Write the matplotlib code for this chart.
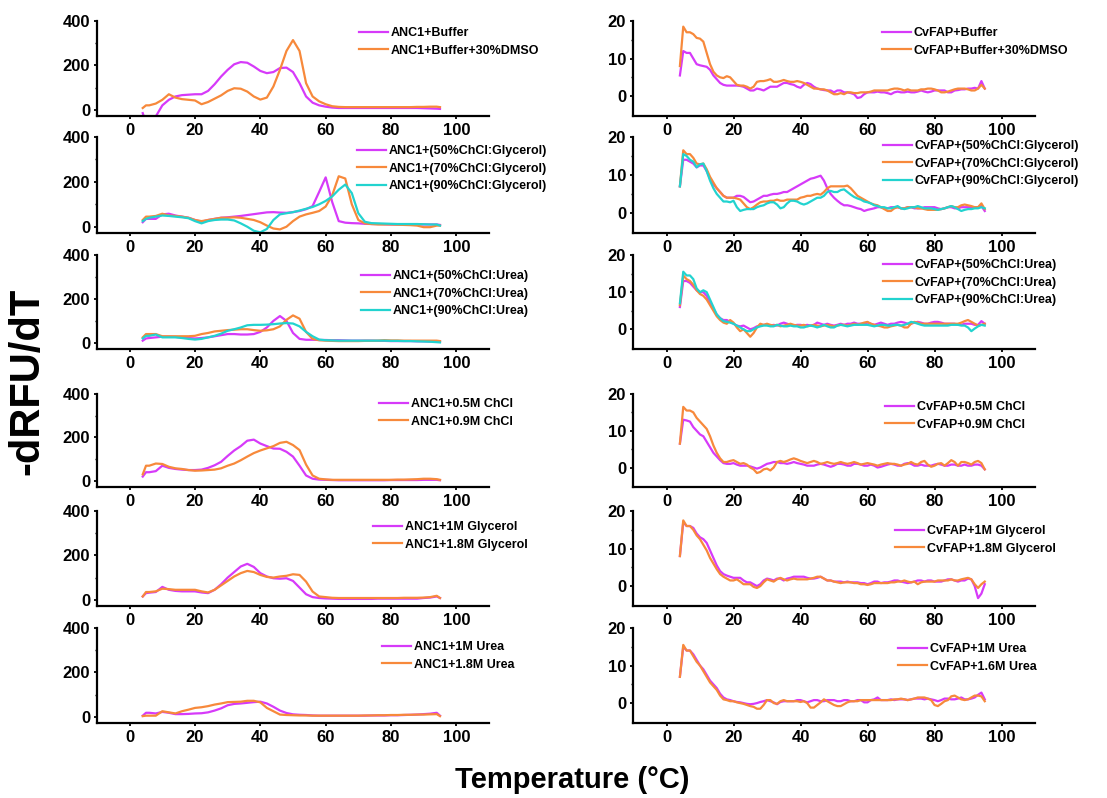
import numpy as np
import matplotlib.pyplot as plt

plt.rcParams['font.family'] = 'Liberation Sans'
plt.rcParams['font.weight'] = 'bold'

MAG = '#D63AF9'
ORA = '#F7893B'
CYA = '#22D3CF'

# temperature grid (deg C) for the ANC1 curves (smooth) and CvFAP curves (noisy)
T_L = [4, 5, 6, 8,
       10, 12, 14, 16, 18, 20, 22, 24, 26, 28,
       30, 32, 34, 36, 38, 40, 42, 44, 46, 48,
       50, 52, 54, 56, 58, 60, 62, 64, 66, 68,
       70, 72, 74, 76, 78, 80, 82, 84, 86, 88,
       90, 92, 94, 95]
T_R = np.arange(4, 96)

# ---- ANC1 (-dRFU/dT) ----
anc_buffer = [-15, -60, -60, -30,
              20, 45, 60, 66, 68, 70, 70, 85, 115, 150,
              180, 205, 215, 212, 195, 175, 165, 170, 188, 190,
              170, 120, 60, 32, 20, 14, 10, 8, 8, 8,
              8, 8, 8, 8, 8, 8, 8, 8, 8, 8,
              7, 6, 5, 4]
anc_dmso = [8, 20, 20, 28,
            45, 70, 55, 48, 45, 42, 25, 35, 50, 65,
            85, 97, 95, 82, 60, 46, 55, 105, 180, 265,
            314, 265, 120, 60, 38, 25, 16, 13, 12, 12,
            12, 12, 12, 12, 12, 12, 12, 12, 12, 13,
            13, 14, 14, 12]

anc_gly50 = [20, 35, 35, 35,
             55, 58, 50, 45, 40, 30, 22, 30, 35, 40,
             42, 45, 48, 52, 56, 60, 64, 65, 63, 62,
             65, 70, 78, 92, 155, 220, 110, 25, 18, 16,
             15, 13, 12, 12, 11, 10, 10, 10, 10, 10,
             10, 10, 10, 8]
anc_gly70 = [30, 45, 45, 48,
             58, 50, 48, 45, 40, 30, 25, 30, 35, 40,
             40, 42, 40, 35, 30, 20, 5, -8, -12, 0,
             25, 45, 55, 62, 70, 90, 140, 225, 215, 100,
             30, 15, 12, 10, 10, 10, 9, 8, 7, 5,
             -2, -2, 5, 5]
anc_gly90 = [25, 35, 40, 45,
             50, 48, 45, 42, 38, 25, 15, 25, 30, 32,
             32, 28, 15, 0, -18, -25, -10, 30, 55, 60,
             65, 72, 80, 88, 100, 115, 135, 165, 188, 150,
             60, 22, 16, 15, 14, 13, 12, 12, 12, 12,
             11, 10, 10, 5]

anc_urea50 = [10, 20, 22, 25,
              28, 28, 27, 25, 22, 20, 22, 25, 30, 35,
              40, 40, 38, 38, 40, 50, 70, 100, 122, 100,
              45, 18, 14, 14, 13, 13, 12, 12, 11, 10,
              10, 10, 10, 9, 9, 8, 8, 8, 8, 7,
              7, 6, 6, 5]
anc_urea70 = [25, 40, 40, 40,
              30, 30, 30, 30, 30, 32, 40, 45, 52, 55,
              58, 60, 62, 62, 58, 55, 57, 62, 75, 105,
              125, 110, 50, 18, 12, 10, 9, 8, 8, 8,
              8, 9, 9, 10, 12, 11, 11, 10, 10, 10,
              10, 10, 10, 8]
anc_urea90 = [20, 32, 32, 38,
              25, 25, 25, 22, 18, 15, 18, 25, 32, 42,
              55, 62, 70, 80, 82, 82, 83, 85, 88, 90,
              88, 75, 50, 30, 15, 12, 11, 10, 10, 10,
              10, 10, 10, 10, 10, 9, 9, 8, 8, 7,
              6, 5, 3, 2]

anc_chcl05 = [20, 40, 40, 45,
              70, 60, 55, 52, 50, 50, 52, 60, 72, 88,
              115, 140, 160, 185, 190, 172, 160, 149, 148, 134,
              112, 70, 25, 10, 6, 5, 4, 3, 3, 3,
              3, 3, 3, 3, 3, 4, 4, 4, 4, 4,
              5, 5, 5, 3]
anc_chcl09 = [30, 70, 70, 80,
              78, 65, 58, 55, 50, 47, 48, 50, 52, 58,
              70, 80, 95, 112, 128, 140, 150, 160, 175, 180,
              165, 142, 75, 25, 10, 7, 5, 5, 5, 5,
              5, 5, 5, 5, 5, 5, 6, 6, 7, 8,
              10, 10, 8, 5]

anc_gly1 = [15, 30, 32, 35,
            58, 45, 40, 38, 38, 38, 33, 30, 45, 70,
            100, 125, 150, 162, 148, 120, 105, 97, 95, 97,
            85, 55, 25, 12, 8, 6, 5, 4, 4, 4,
            4, 4, 4, 5, 5, 5, 5, 5, 5, 5,
            8, 10, 15, 8]
anc_gly18 = [15, 35, 35, 38,
             50, 48, 45, 45, 45, 45, 38, 33, 45, 65,
             85, 105, 120, 130, 125, 112, 103, 100, 105, 108,
             115, 112, 82, 37, 15, 12, 9, 8, 8, 8,
             8, 8, 8, 8, 8, 8, 8, 9, 9, 9,
             10, 12, 18, 8]

anc_urea1 = [5, 18, 18, 15,
             22, 18, 12, 12, 13, 15, 16, 20, 28, 38,
             52, 58, 60, 63, 66, 68, 60, 45, 28, 17,
             11, 9, 8, 6, 5, 5, 5, 5, 5, 5,
             5, 5, 6, 6, 6, 7, 7, 8, 9, 10,
             12, 14, 18, 5]
anc_urea18 = [3, 5, 5, 5,
              25, 20, 15, 25, 32, 40, 43, 48, 55, 60,
              66, 67, 68, 72, 72, 65, 40, 25, 10, 8,
              7, 6, 6, 5, 5, 5, 5, 5, 5, 5,
              5, 6, 6, 7, 7, 8, 8, 9, 9, 10,
              10, 11, 12, 3]

# ---- CvFAP (-dRFU/dT), one value per degree from 4 to 95 ----
cv_buffer = [5.5, 12, 11.5, 11.5, 10, 8.5, 8.2, 8, 7.8, 7,
             5.5, 4.5, 3.5, 3, 2.8, 2.8, 2.8, 2.8, 2.7, 2.5,
             2, 1.5, 1.5, 2, 1.8, 1.5, 2, 2.5, 2.5, 2.5,
             3, 3.5, 3.5, 3.2, 3, 2.5, 2.2, 3, 3.5, 3.2,
             2.5, 2, 1.8, 1.6, 1.5, 1.5, 1, 1.5, 1.5, 1,
             1, 0.8, 0.5, -0.5, -0.3, 0.5, 1, 1, 1, 1.2,
             1, 1, 0.8, 0.5, 1, 1.2, 1, 1, 1.2, 1,
             1, 1.2, 1.5, 1.2, 1, 1.2, 1.5, 1.5, 1.5, 1.5,
             1, 1, 1.5, 1.6, 1.8, 1.8, 2, 2, 2.2, 2,
             4, 2]
cv_dmso = [8, 18.5, 17, 17, 16.5, 15.5, 15.3, 14.5, 11.5, 8.5,
           6.5, 5.5, 5, 4.8, 5.3, 5, 4, 3, 2.8, 2.8,
           2.5, 2, 2.5, 3.8, 4, 4, 4.2, 4.5, 3.8, 3.8,
           4, 4.3, 4, 3.8, 3.8, 4, 3.8, 3.5, 3, 2.5,
           2, 2, 1.8, 1.8, 1.5, 1, 0.5, 0.5, 0.8, 0.5,
           1, 1, 0.8, 0.8, 1, 1, 1, 1.2, 1.5, 1.5,
           1.5, 1.5, 1.5, 1.8, 2, 2, 1.8, 1.5, 1.8, 1.5,
           1.5, 1.5, 1.8, 1.8, 2, 2, 1.8, 1.5, 1, 1,
           1.2, 1.5, 1.8, 2, 2, 2, 1.8, 1.5, 1.5, 2,
           3, 2]

cv_gly50 = [7, 14, 14, 13.5, 13, 12, 12.5, 12.5, 11, 9,
            7.5, 6.5, 5.5, 4.5, 4, 4, 4, 4.5, 4.5, 4.2,
            3.5, 2.8, 3, 3.5, 4, 4.5, 4.5, 4.8, 5, 5,
            5.2, 5.5, 5.5, 6, 6.5, 7, 7.5, 8, 8.5, 9,
            9.2, 9.5, 9.8, 8.5, 6.5, 5, 4, 3.2, 2.5, 2,
            2, 1.8, 1.5, 1.2, 1, 0.5, 0.8, 1, 1.2, 1.5,
            1.5, 1.2, 1.2, 1.5, 1.5, 1.5, 1.2, 1.2, 1.5, 1.5,
            1.2, 1.2, 1.2, 1.5, 1.5, 1.5, 1.5, 1.2, 1, 1.2,
            1.5, 1.5, 1.2, 1.2, 1.5, 1.5, 1.5, 1.5, 1.5, 1.5,
            1.8, 0.5]
cv_gly70 = [7, 16.5, 15.5, 15.5, 14.5, 13, 12.8, 13, 11.5, 9.5,
            8, 6.5, 5.5, 4.5, 4, 4, 4, 3.8, 3.5, 2.5,
            1.5, 1, 1.5, 2.2, 2.8, 3, 3, 3.2, 3.2, 3.5,
            3.2, 3.2, 3.5, 3.5, 3.5, 3.5, 4, 4.2, 4.5, 4.5,
            4.8, 5, 4.8, 5.5, 6.5, 7, 7, 7, 7, 7,
            7.2, 6.5, 5.5, 4.5, 4, 3.5, 3, 2.5, 2.2, 2,
            1.5, 1, 0.5, 0.5, 1.2, 1.5, 1.2, 1.2, 1.5, 1.5,
            1.5, 1.2, 1.2, 1, 0.8, 0.8, 0.8, 0.8, 1, 1.2,
            1.5, 1.8, 1.5, 1.5, 2, 2.2, 2, 1.8, 1.5, 1.5,
            2.5, 1]
cv_gly90 = [7, 15.5, 15, 14, 13.5, 12, 12.8, 13, 11, 8.5,
            6.5, 5, 4, 3, 3, 2.8, 3.2, 1.5, 0.5, 0.8,
            1, 1, 1, 1.5, 1.8, 2, 2.5, 2.8, 2.8, 2.2,
            1.2, 1.5, 2.5, 3.2, 3.2, 3, 2.5, 2.2, 2.5, 3,
            3.5, 4, 4, 4.5, 5.5, 5.8, 5.5, 5.5, 6, 6.2,
            5.5, 4.8, 4.2, 3.8, 3.5, 3, 2.8, 2.5, 2, 1.8,
            1.5, 1.5, 1.2, 1.2, 1.5, 1.8, 1.2, 1, 1.2, 1.5,
            1.5, 1.8, 1.5, 1.2, 1.2, 1.2, 1, 0.8, 1, 1.2,
            1.5, 1.8, 1.5, 1, 0.5, 0.8, 1, 1, 1.2, 1.2,
            1.5, 1.2]

cv_urea50 = [6, 13, 13, 12.5, 11.5, 10.5, 10, 10, 9, 7,
             5.5, 4, 3, 2.5, 2.5, 2, 1.5, 1, 0.8, 1,
             0.5, 0, 0.3, 0.8, 1, 1.2, 1.2, 1, 1.2, 1,
             1.5, 1.8, 1.5, 1.2, 1, 1.2, 1.2, 1, 1.2, 1,
             1.2, 1.8, 1.5, 1.2, 1.5, 1.2, 1, 1.2, 1.5, 1.2,
             1.5, 1.5, 1.8, 1.5, 1.5, 1.5, 1.8, 1.5, 1.2, 1.5,
             1.8, 1.5, 1.2, 1.5, 1.5, 1.8, 2, 1.8, 1.5, 1.5,
             1.8, 2, 1.8, 1.5, 1.5, 1.8, 2, 2, 1.8, 1.5,
             1.5, 1.5, 1.5, 1.2, 1.2, 1.5, 1.5, 1.5, 1.2, 1.2,
             2.2, 1.5]
cv_urea70 = [6.5, 14.5, 13.5, 13, 12, 10.5, 9.5, 9, 8, 6.5,
             5, 3.5, 2.5, 1.8, 1.5, 2.5, 1.8, 0.5, -0.5, 0,
             -1, -2, -1, 0.5, 1.5, 1.2, 1.5, 1.2, 1, 1.2,
             0.8, 1, 1.2, 1.5, 1.2, 1, 1, 1.2, 0.8, 1,
             1.2, 1, 0.8, 1, 1.2, 1, 0.8, 1, 1.2, 1.2,
             1, 1.2, 1.5, 1.2, 1.5, 1.8, 2, 1.5, 1.2, 1,
             0.8, 0.5, 0.5, 0.8, 1, 1.2, 1, 0.5, 0.5, 1.5,
             2, 1.8, 1.5, 1.5, 1.5, 1.5, 1.5, 1.5, 1.5, 1.5,
             1.5, 1.5, 1.5, 1.5, 1.8, 2.2, 2.5, 2, 1.5, 1,
             1.2, 1.5]
cv_urea90 = [7, 15.5, 14.5, 14.5, 13.5, 11, 10, 10.5, 10, 8,
             6, 4, 3, 2.2, 2, 1.8, 1.5, 1, 0.5, 0,
             -0.5, -0.5, 0, 0.5, 0.8, 1, 1, 0.8, 0.8, 1.2,
             1, 0.8, 0.8, 1, 0.8, 0.8, 0.5, 0.5, 0.8, 1,
             0.8, 0.5, 0.8, 1.2, 0.8, 0.5, 0.5, 1, 1.2, 1,
             0.8, 1, 1.2, 1.2, 1.2, 1.2, 1.2, 1, 0.8, 1,
             1.2, 1.2, 1, 1, 1.2, 1.2, 1, 1.2, 1.5, 2,
             1.8, 1.5, 1.2, 1, 1, 1, 1, 1, 1, 1,
             1, 1.2, 1.2, 1.2, 1, 1, 0.5, -0.5, 0.2, 0.8,
             1.2, 1]

cv_chcl05 = [6.5, 13, 12.8, 12.5, 11, 10, 9, 8.5, 7, 5.5,
             4, 3, 2, 1.2, 1, 1, 1.2, 0.8, 0.5, 0.5,
             0.5, 0.3, 0, -0.3, 0, 0.5, 1, 1.2, 1.5, 1.5,
             1.2, 1.2, 1, 1.2, 1.5, 1.2, 1, 0.8, 0.5, 0.5,
             0.5, 0.8, 1, 0.8, 0.5, 0.2, 0.5, 1, 1, 0.8,
             0.5, 0.5, 1, 1, 0.8, 0.5, 0.5, 0.8, 0.5, 0,
             0.2, 0.5, 0.8, 1, 0.8, 0.5, 0.5, 1, 1.2, 1,
             0.5, 0.5, 0.8, 0.5, 0.5, 0.5, 0.8, 1, 0.8, 0.5,
             0.5, 0.8, 0.8, 0.5, 0.5, 0.8, 0.5, 0.5, 0.8, 0.8,
             0.5, -0.5]
cv_chcl09 = [6.5, 16.5, 15.5, 15.5, 15, 13.5, 12.5, 11.5, 10.5, 8.5,
             6, 4, 2.5, 1.5, 1.5, 1.8, 2, 1.5, 1, 1.2,
             0.8, 0, -0.5, -1.5, -1.2, -0.5, -0.3, -0.8, 0, 1.5,
             1.8, 1.5, 1.8, 2.2, 2.5, 2.2, 1.8, 1.5, 1.2, 1.5,
             1.8, 1.5, 1, 1.2, 1.5, 1.2, 1, 1.2, 1.5, 1.2,
             1, 1.2, 1.5, 1.2, 0.8, 1, 1.2, 1, 0.8, 0.5,
             0.8, 1, 1.2, 1, 1, 0.8, 0.5, 0.8, 1, 1.5,
             1, 0.8, 1.5, 1.8, 0.8, 0.2, 0.5, 1, 1.2, 0.5,
             1.2, 2, 1.5, 0.5, 1.5, 1.5, 1.2, 0.8, 1.5, 1.8,
             1.2, -0.5]

cv_gly1 = [8, 17, 16, 16, 15.5, 14, 13, 12.5, 11.5, 9.5,
           7.5, 5.5, 4, 3.2, 2.8, 2.5, 2.2, 2.2, 2.2, 1.5,
           1, 1, 0.5, 0, 0.5, 1.5, 2, 1.8, 1.5, 2,
           2, 1.5, 2, 2.2, 2.5, 2.5, 2.5, 2.5, 2.2, 2,
           2, 2.2, 2.5, 2, 1.5, 1.5, 1.2, 1.2, 1.2, 1,
           1.2, 1, 1, 1, 0.8, 0.8, 0.5, 0.8, 1.2, 1.2,
           0.8, 1, 1, 1.2, 1.5, 1.5, 1.2, 1, 0.8, 1,
           1.2, 1.5, 1.5, 1.2, 1.5, 1.5, 1.2, 1.2, 1.2, 1.5,
           1.8, 1.8, 1.5, 1.2, 1.5, 1.5, 2, 1.8, 0, -3.2,
           -2, 0.5]
cv_gly18 = [8, 17.5, 16, 16, 15, 13.5, 12.5, 11, 9.5, 7.5,
            6, 4.5, 3.2, 2.5, 2, 1.5, 1.5, 1.8, 1.2, 0.5,
            0.5, 0.5, -0.2, -0.5, 0, 1, 1.8, 1.5, 1.2, 1.8,
            2.2, 1.8, 1.5, 1.8, 2, 1.8, 1.8, 1.8, 1.8, 2,
            2.2, 2.5, 2.5, 2, 1.5, 1.5, 1.2, 1, 0.8, 1,
            1, 1, 0.8, 0.8, 0.5, 0.5, 0.3, 0.5, 0.8, 0.8,
            0.8, 0.8, 0.8, 1, 1, 1.2, 1.2, 1.5, 1.2, 1,
            1.2, 0.5, 1, 1.2, 1.2, 1.2, 1.2, 1.5, 1.5, 1.5,
            1.5, 1.8, 1.5, 1.5, 1.8, 2, 2.2, 1.8, 0.5, -0.5,
            0.5, 1.2]

cv_urea1 = [7, 15, 14, 14, 13, 11.5, 10, 9, 7.5, 6,
            5, 4, 2.5, 1.5, 1, 0.8, 0.5, 0.3, 0.2, 0,
            -0.2, -0.3, -0.2, 0, 0.3, 0.5, 0.8, 0.5, 0.2, -0.3,
            0.3, 0.5, 0.5, 0.5, 0.5, 0.8, 0.8, 0.5, 0.2, 0.5,
            0.8, 0.8, 0.5, 0.5, 0.8, 0.8, 0.8, 0.5, 0.5, 0.8,
            0.8, 0.5, 0.5, 0.8, 0.8, 0.2, 0.2, 0.8, 1, 1.5,
            0.8, 0.8, 0.8, 1, 0.8, 1, 1, 1, 0.8, 1,
            1.2, 1.2, 1.2, 1, 1.2, 1, 0.8, 0.5, 0.8, 1.2,
            1.2, 1, 1, 1.2, 1.5, 1, 1, 1.2, 1.5, 2.2,
            2.8, 1]
cv_urea16 = [7, 15.5, 14, 14, 12.5, 11, 10, 8.5, 7, 5.5,
             4.5, 3.5, 2, 1, 0.8, 0.5, 0.5, 0.2, 0, -0.2,
             -0.5, -0.8, -1, -1.5, -1.5, -0.5, 0.8, 0.8, 0, -0.2,
             0.5, 0.8, 0.5, 0.5, 0.5, 0.5, 0.3, 0.5, 0, -1.2,
             -1.2, -0.5, 0.2, 1, 0.5, 0, -0.5, -0.8, -0.8, -0.3,
             0.2, 0.5, 0.5, 0.5, 0.8, 0.8, 0.8, 0.8, 0.8, 0.8,
             0.8, 0.8, 0.8, 0.8, 1, 1, 1.2, 1, 0.8, 1,
             1.2, 1.5, 1.5, 1.5, 1.2, 0.8, -0.5, -0.8, -0.2, 0.5,
             0.8, 1.8, 2, 1.5, 1, 0.8, 1, 1.5, 2, 2,
             1.8, 0.5]

left_series = [[anc_buffer, anc_dmso],
               [anc_gly50, anc_gly70, anc_gly90],
               [anc_urea50, anc_urea70, anc_urea90],
               [anc_chcl05, anc_chcl09],
               [anc_gly1, anc_gly18],
               [anc_urea1, anc_urea18]]
left_labels = [['ANC1+Buffer', 'ANC1+Buffer+30%DMSO'],
               ['ANC1+(50%ChCl:Glycerol)', 'ANC1+(70%ChCl:Glycerol)', 'ANC1+(90%ChCl:Glycerol)'],
               ['ANC1+(50%ChCl:Urea)', 'ANC1+(70%ChCl:Urea)', 'ANC1+(90%ChCl:Urea)'],
               ['ANC1+0.5M ChCl', 'ANC1+0.9M ChCl'],
               ['ANC1+1M Glycerol', 'ANC1+1.8M Glycerol'],
               ['ANC1+1M Urea', 'ANC1+1.8M Urea']]
right_series = [[cv_buffer, cv_dmso],
                [cv_gly50, cv_gly70, cv_gly90],
                [cv_urea50, cv_urea70, cv_urea90],
                [cv_chcl05, cv_chcl09],
                [cv_gly1, cv_gly18],
                [cv_urea1, cv_urea16]]
right_labels = [['CvFAP+Buffer', 'CvFAP+Buffer+30%DMSO'],
                ['CvFAP+(50%ChCl:Glycerol)', 'CvFAP+(70%ChCl:Glycerol)', 'CvFAP+(90%ChCl:Glycerol)'],
                ['CvFAP+(50%ChCl:Urea)', 'CvFAP+(70%ChCl:Urea)', 'CvFAP+(90%ChCl:Urea)'],
                ['CvFAP+0.5M ChCl', 'CvFAP+0.9M ChCl'],
                ['CvFAP+1M Glycerol', 'CvFAP+1.8M Glycerol'],
                ['CvFAP+1M Urea', 'CvFAP+1.6M Urea']]
colors = [MAG, ORA, CYA]

# layout in pixels
W, H = 1107, 798
row_top = [21, 137, 255, 394, 511, 628]
row_bot = [116, 233, 349, 487, 606, 723]
left_leg = [(359, 34), (357, 152), (361, 277), (379, 405), (373, 528), (382, 648)]
right_leg = [(882, 34), (883, 147), (883, 266), (885, 408), (895, 532), (898, 650)]

fig = plt.figure(figsize=(W / 100, H / 100), dpi=100)


def panel(l, r, t, b, temps, series, labels, ylim, yticks, yminor, leg):
    ax = fig.add_axes([l / W, 1 - b / H, (r - l) / W, (b - t) / H])
    for y, c, lab in zip(series, colors, labels):
        ax.plot(temps, y, color=c, lw=1.6, label=lab)
    ax.set_xlim(-10, 110)
    ax.set_ylim(*ylim)
    ax.set_xticks([0, 20, 40, 60, 80, 100])
    ax.set_yticks(yticks)
    ax.set_yticks(yminor, minor=True)
    for s in ['top', 'right']:
        ax.spines[s].set_visible(False)
    for s in ['left', 'bottom']:
        ax.spines[s].set_linewidth(1.6)
    ax.tick_params(which='major', width=1.3, length=2.5, labelsize=12, pad=2.5)
    ax.tick_params(which='minor', width=1.0, length=1.5)
    ax.legend(loc='upper left', bbox_to_anchor=(leg[0] / W, 1 - (leg[1] - 7) / H),
              bbox_transform=fig.transFigure, frameon=False, fontsize=9,
              borderpad=0, borderaxespad=0, handlelength=2.3, handletextpad=0.25,
              labelspacing=0.45)
    return ax


for i in range(6):
    panel(97, 489, row_top[i], row_bot[i], T_L, left_series[i], left_labels[i],
          (-28, 400), [0, 200, 400], [100, 300], left_leg[i])
    panel(633, 1035, row_top[i], row_bot[i], T_R, right_series[i], right_labels[i],
          (-5.3, 20), [0, 10, 20], [5, 15], right_leg[i])

fig.text(27 / W, 1 - 381 / H, '-dRFU/dT', rotation=90, fontsize=30,
         fontweight='bold', ha='center', va='center')
fig.text(572 / W, 1 - 780 / H, 'Temperature (\u00b0C)', fontsize=21,
         fontweight='bold', ha='center', va='center')

fig.savefig('out.png', dpi=100)
